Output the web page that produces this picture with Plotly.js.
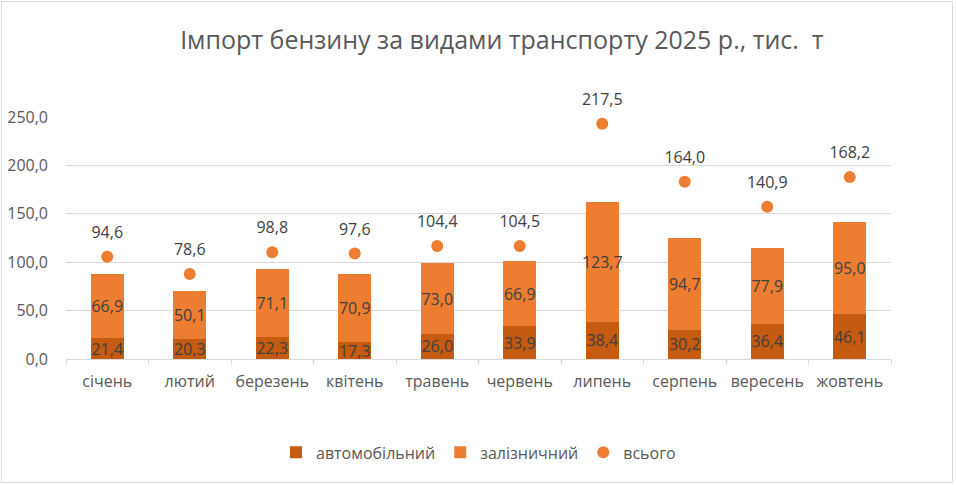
<!DOCTYPE html>
<html>
<head>
<meta charset="utf-8">
<script src="https://cdn.plot.ly/plotly-3.0.1.min.js"></script>
<style>
html,body{margin:0;padding:0;background:#fff;}
#chart{width:956px;height:485px;}
#frame{position:absolute;left:1px;top:1px;width:950px;height:480px;border:1px solid #d9d9d9;pointer-events:none;}
</style>
</head>
<body>
<div id="chart"></div>
<div id="frame"></div>
<script>
const months = ["січень","лютий","березень","квітень","травень","червень","липень","серпень","вересень","жовтень"];
const auto = [21.4, 20.3, 22.3, 17.3, 26.0, 33.9, 38.4, 30.2, 36.4, 46.1];
const rail = [66.9, 50.1, 71.1, 70.9, 73.0, 66.9, 123.7, 94.7, 77.9, 95.0];
const total = [94.6, 78.6, 98.8, 97.6, 104.4, 104.5, 217.5, 164.0, 140.9, 168.2];

const FONT = "Open Sans, Liberation Sans, sans-serif";
const labelFont = {family: FONT, size: 16, color: "#404040"};

const traces = [
  {
    type: "bar", name: "автомобільний", x: months, y: auto,
    marker: {color: "#C55A11"},
    text: auto, texttemplate: "%{y:.1f}", textposition: "inside",
    insidetextanchor: "middle", constraintext: "none", textangle: 0,
    insidetextfont: labelFont, cliponaxis: false, hoverinfo: "none"
  },
  {
    type: "bar", name: "залізничний", x: months, y: rail,
    marker: {color: "#ED7D31"},
    text: rail, texttemplate: "%{y:.1f}", textposition: "inside",
    insidetextanchor: "middle", constraintext: "none", textangle: 0,
    insidetextfont: labelFont, cliponaxis: false, hoverinfo: "none"
  },
  {
    type: "scatter", mode: "markers", name: "всього", x: months, y: total,
    yaxis: "y2",
    marker: {color: "#ED7D31", size: 12},
    cliponaxis: false, hoverinfo: "none"
  },
  {
    type: "scatter", mode: "markers+text", name: "всього (підписи)", x: months, y: total,
    yaxis: "y2", showlegend: false,
    marker: {color: "rgba(0,0,0,0)", size: 22},
    text: total, texttemplate: "%{y:.1f}", textposition: "top center",
    textfont: labelFont, cliponaxis: false, hoverinfo: "none"
  }
];

const layout = {
  width: 956, height: 485,
  paper_bgcolor: "#ffffff", plot_bgcolor: "#ffffff",
  separators: ", ",
  barmode: "stack", bargap: 0.6,
  margin: {l: 66, r: 65, t: 117, b: 126},
  font: {family: FONT, size: 16, color: "#595959"},
  title: {
    text: "Імпорт бензину за видами транспорту 2025 р., тис.  т",
    font: {family: FONT, size: 25, color: "#595959"},
    x: 0.525, xanchor: "center", y: 0.918, yanchor: "middle"
  },
  xaxis: {
    type: "category", range: [-0.5, months.length - 0.5], tickangle: 0, automargin: false,
    showline: true, linecolor: "#d9d9d9", linewidth: 1,
    ticks: "outside", tickson: "boundaries", ticklen: 5, tickcolor: "#d9d9d9",
    ticklabelstandoff: 8,
    tickfont: {family: FONT, size: 16, color: "#595959"},
    showgrid: false, zeroline: false
  },
  yaxis: {
    range: [0, 250], dtick: 50, tickformat: ".1f", automargin: false,
    showgrid: true, gridcolor: "#d9d9d9", gridwidth: 1,
    zeroline: false, showline: false,
    ticklabelstandoff: 17,
    tickfont: {family: FONT, size: 16, color: "#595959"}
  },
  yaxis2: {
    overlaying: "y", side: "right", range: [0, 223.8], automargin: false,
    visible: false, showgrid: false, zeroline: false
  },
  showlegend: true,
  legend: {
    orientation: "h", x: 0.5, xanchor: "center", y: -0.386, yanchor: "middle",
    font: {family: FONT, size: 16, color: "#595959"},
    traceorder: "normal", itemwidth: 30
  }
};

Plotly.newPlot("chart", traces, layout, {displayModeBar: false, staticPlot: true});
</script>
</body>
</html>
